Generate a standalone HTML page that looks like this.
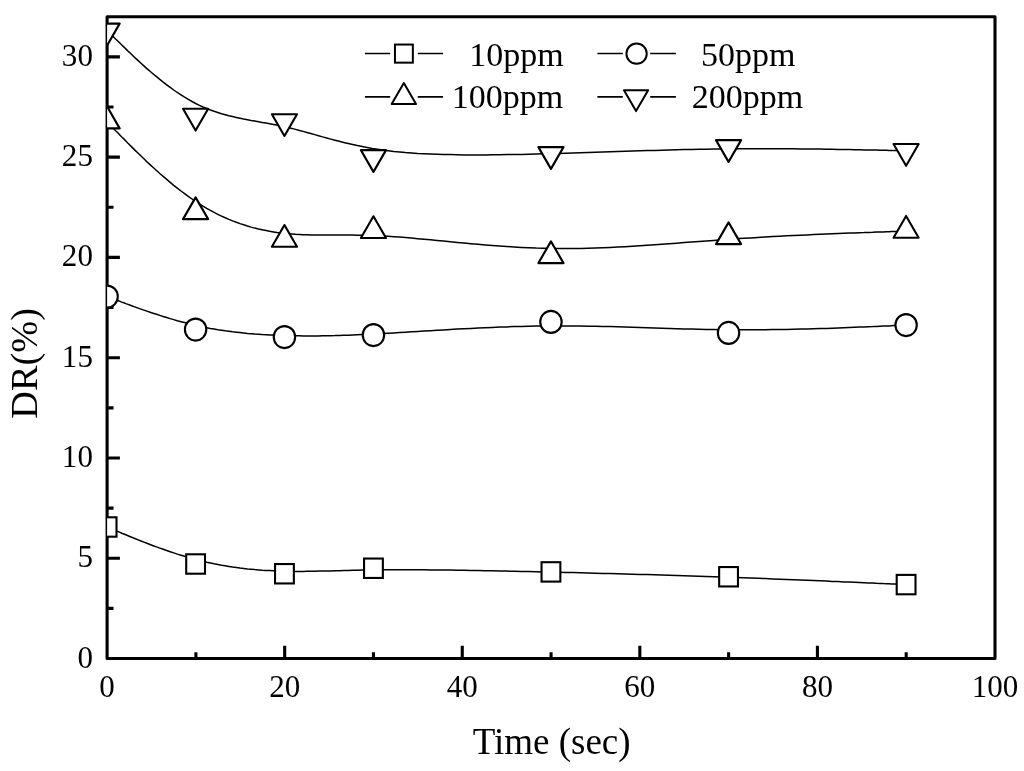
<!DOCTYPE html>
<html><head><meta charset="utf-8"><title>DR vs Time</title>
<style>
html,body{margin:0;padding:0;background:#fff;}
body{width:1024px;height:771px;overflow:hidden;}
svg{display:block;will-change:transform;}
text{font-family:"Liberation Serif",serif;fill:#000;}
.tl{font-size:32.5px;}
.lg{font-size:34px;}
.ax{stroke:#000;stroke-width:3.1;fill:none;stroke-linecap:butt;stroke-linejoin:round;}
.cv{stroke:#000;stroke-width:1.5;fill:none;}
.lc{stroke:#000;stroke-width:1.6;fill:none;}
.mk{stroke:#000;stroke-width:2.1;fill:#fff;stroke-linejoin:round;}
.mk rect{stroke-linejoin:miter;}
.lm{stroke-width:2;}
</style></head><body>
<svg width="1024" height="771" viewBox="0 0 1024 771">
<rect x="0" y="0" width="1024" height="771" fill="#fff"/>
<defs><clipPath id="pa"><rect x="107.1" y="16.8" width="887.9" height="641.8"/></clipPath></defs>
<path class="ax" d="M195.89 658.55V652.15M284.68 658.55V645.75M373.47 658.55V652.15M462.26 658.55V645.75M551.05 658.55V652.15M639.84 658.55V645.75M728.63 658.55V652.15M817.42 658.55V645.75M906.21 658.55V652.15M107.10 608.41H113.50M107.10 558.27H119.90M107.10 508.13H113.50M107.10 457.99H119.90M107.10 407.85H113.50M107.10 357.71H119.90M107.10 307.57H113.50M107.10 257.42H119.90M107.10 207.28H113.50M107.10 157.14H119.90M107.10 107.00H113.50M107.10 56.86H119.90"/>
<rect class="ax" x="107.10" y="16.75" width="887.90" height="641.80"/>
<g clip-path="url(#pa)">
<path class="cv" d="M107.1 527.0 L107.9 527.3 L108.9 527.8 L110.0 528.2 L111.5 528.8 L112.3 529.2 L113.3 529.6 L114.4 530.1 L115.6 530.6 L117.0 531.1 L118.5 531.7 L120.1 532.4 L121.8 533.2 L123.8 534.0 L125.8 534.8 L128.0 535.7 L130.4 536.7 L132.9 537.7 L135.4 538.8 L138.2 539.9 L141.0 541.0 L143.9 542.1 L146.9 543.3 L150.0 544.5 L153.2 545.7 L156.5 546.9 L159.8 548.1 L163.2 549.3 L166.7 550.5 L170.2 551.7 L173.7 552.9 L177.3 554.1 L181.0 555.2 L184.6 556.3 L188.3 557.4 L192.0 558.5 L195.7 559.5 L199.4 560.4 L203.0 561.3 L206.7 562.2 L210.4 563.0 L214.1 563.8 L217.8 564.5 L221.5 565.2 L225.2 565.8 L228.9 566.4 L232.6 567.0 L236.3 567.5 L240.0 568.0 L243.7 568.4 L247.4 568.9 L251.1 569.2 L254.8 569.6 L258.5 569.9 L262.2 570.2 L266.0 570.4 L269.7 570.6 L273.4 570.8 L277.1 571.0 L280.8 571.1 L284.5 571.2 L288.2 571.3 L291.9 571.3 L295.6 571.4 L299.4 571.4 L303.1 571.4 L306.9 571.3 L310.8 571.3 L314.7 571.2 L318.6 571.1 L322.6 571.1 L326.7 571.0 L330.8 570.9 L335.0 570.8 L339.3 570.7 L343.7 570.6 L348.2 570.4 L352.7 570.3 L357.4 570.2 L362.2 570.1 L367.2 570.0 L372.2 570.0 L377.4 569.9 L382.7 569.8 L388.2 569.8 L393.8 569.7 L399.6 569.7 L405.5 569.7 L411.6 569.7 L417.7 569.8 L424.0 569.8 L430.5 569.9 L437.0 569.9 L443.6 570.0 L450.3 570.1 L457.1 570.2 L464.0 570.3 L471.0 570.4 L478.1 570.5 L485.2 570.7 L492.3 570.8 L499.6 570.9 L506.8 571.1 L514.1 571.3 L521.4 571.4 L528.8 571.6 L536.2 571.8 L543.6 571.9 L551.0 572.1 L558.4 572.3 L565.8 572.5 L573.2 572.6 L580.6 572.8 L588.0 573.0 L595.4 573.2 L602.8 573.4 L610.2 573.6 L617.6 573.8 L625.0 574.0 L632.4 574.2 L639.8 574.4 L647.2 574.6 L654.5 574.8 L661.9 575.1 L669.3 575.3 L676.7 575.5 L684.1 575.8 L691.5 576.0 L698.9 576.2 L706.3 576.5 L713.7 576.7 L721.1 577.0 L728.5 577.2 L735.9 577.5 L743.3 577.8 L750.7 578.1 L758.0 578.3 L765.3 578.6 L772.5 578.9 L779.6 579.2 L786.6 579.5 L793.6 579.7 L800.4 580.0 L807.1 580.3 L813.6 580.6 L820.0 580.8 L826.2 581.1 L832.3 581.4 L838.1 581.6 L843.8 581.9 L849.2 582.1 L854.4 582.3 L859.4 582.5 L864.1 582.7 L868.5 582.9 L872.7 583.1 L876.5 583.3 L880.1 583.4 L883.3 583.6 L886.3 583.7 L889.0 583.8 L891.4 584.0 L893.6 584.0 L895.6 584.1 L897.3 584.2 L898.9 584.3 L900.2 584.3 L901.4 584.4 L902.4 584.4 L903.3 584.5 L904.5 584.5 L905.4 584.6"/>
<path class="cv" d="M107.1 296.6 L107.9 296.9 L108.9 297.3 L110.0 297.7 L111.5 298.2 L112.3 298.6 L113.3 298.9 L114.4 299.3 L115.6 299.8 L117.0 300.3 L118.5 300.8 L120.1 301.4 L121.8 302.1 L123.8 302.8 L125.8 303.6 L128.0 304.4 L130.4 305.3 L132.9 306.2 L135.4 307.1 L138.2 308.1 L141.0 309.1 L143.9 310.1 L146.9 311.1 L150.0 312.2 L153.2 313.3 L156.5 314.3 L159.8 315.4 L163.2 316.5 L166.7 317.5 L170.2 318.6 L173.7 319.6 L177.3 320.7 L181.0 321.7 L184.6 322.6 L188.3 323.6 L192.0 324.5 L195.7 325.4 L199.4 326.2 L203.0 327.0 L206.7 327.7 L210.4 328.4 L214.1 329.0 L217.8 329.7 L221.5 330.2 L225.2 330.8 L228.9 331.3 L232.6 331.8 L236.3 332.2 L240.0 332.6 L243.7 333.0 L247.4 333.4 L251.1 333.7 L254.8 334.0 L258.5 334.2 L262.2 334.5 L266.0 334.7 L269.7 334.9 L273.4 335.1 L277.1 335.3 L280.8 335.4 L284.5 335.5 L288.2 335.6 L291.9 335.7 L295.6 335.8 L299.4 335.8 L303.1 335.9 L306.9 335.9 L310.8 335.9 L314.7 335.9 L318.6 335.9 L322.6 335.8 L326.7 335.8 L330.8 335.7 L335.0 335.6 L339.3 335.4 L343.7 335.3 L348.2 335.2 L352.7 335.0 L357.4 334.8 L362.2 334.6 L367.2 334.3 L372.2 334.1 L377.4 333.8 L382.7 333.5 L388.2 333.2 L393.8 332.9 L399.6 332.6 L405.5 332.2 L411.6 331.8 L417.7 331.5 L424.0 331.1 L430.5 330.7 L437.0 330.3 L443.6 329.9 L450.3 329.5 L457.1 329.1 L464.0 328.8 L471.0 328.4 L478.1 328.1 L485.2 327.7 L492.3 327.4 L499.6 327.1 L506.8 326.9 L514.1 326.6 L521.4 326.4 L528.8 326.2 L536.2 326.1 L543.6 326.0 L551.0 325.9 L558.4 325.9 L565.8 325.9 L573.2 326.0 L580.6 326.1 L588.0 326.2 L595.4 326.3 L602.8 326.5 L610.2 326.6 L617.6 326.8 L625.0 327.1 L632.4 327.3 L639.8 327.5 L647.2 327.7 L654.5 328.0 L661.9 328.2 L669.3 328.5 L676.7 328.7 L684.1 328.9 L691.5 329.1 L698.9 329.3 L706.3 329.4 L713.7 329.6 L721.1 329.7 L728.5 329.8 L735.9 329.8 L743.3 329.8 L750.7 329.8 L758.0 329.8 L765.3 329.7 L772.5 329.6 L779.6 329.5 L786.6 329.4 L793.6 329.3 L800.4 329.1 L807.1 329.0 L813.6 328.8 L820.0 328.6 L826.2 328.4 L832.3 328.2 L838.1 328.0 L843.8 327.8 L849.2 327.5 L854.4 327.3 L859.4 327.1 L864.1 326.9 L868.5 326.7 L872.7 326.6 L876.5 326.4 L880.1 326.2 L883.3 326.1 L886.3 326.0 L889.0 325.9 L891.4 325.7 L893.6 325.6 L895.6 325.6 L897.3 325.5 L898.9 325.4 L900.2 325.4 L901.4 325.3 L902.4 325.3 L903.3 325.2 L904.5 325.2 L905.4 325.1"/>
<path class="cv" d="M107.1 122.0 L107.9 122.8 L108.5 123.4 L109.4 124.4 L110.0 125.0 L110.7 125.7 L111.5 126.4 L112.3 127.3 L113.3 128.3 L114.4 129.4 L115.6 130.7 L117.0 132.0 L118.5 133.5 L120.1 135.2 L121.8 137.0 L123.8 138.9 L125.8 141.0 L128.0 143.3 L130.4 145.6 L132.9 148.1 L135.4 150.6 L138.2 153.3 L141.0 156.0 L143.9 158.8 L146.9 161.7 L150.0 164.6 L153.2 167.5 L156.5 170.5 L159.8 173.5 L163.2 176.4 L166.7 179.4 L170.2 182.4 L173.7 185.3 L177.3 188.1 L181.0 191.0 L184.6 193.7 L188.3 196.4 L192.0 199.0 L195.7 201.5 L199.4 203.9 L203.0 206.2 L206.7 208.4 L210.4 210.4 L214.1 212.4 L217.8 214.3 L221.5 216.1 L225.2 217.8 L228.9 219.4 L232.6 220.9 L236.3 222.3 L240.0 223.6 L243.7 224.8 L247.4 226.0 L251.1 227.1 L254.8 228.1 L258.5 229.0 L262.2 229.8 L266.0 230.6 L269.7 231.3 L273.4 231.9 L277.1 232.5 L280.8 233.0 L284.5 233.4 L288.2 233.7 L291.9 234.0 L295.6 234.3 L299.4 234.5 L303.1 234.7 L306.9 234.8 L310.8 234.9 L314.7 234.9 L318.6 235.0 L322.6 235.0 L326.7 235.0 L330.8 235.0 L335.0 235.0 L339.3 235.0 L343.7 235.0 L348.2 235.1 L352.7 235.1 L357.4 235.2 L362.2 235.3 L367.2 235.4 L372.2 235.6 L377.4 235.8 L382.7 236.0 L388.2 236.3 L393.8 236.7 L399.6 237.1 L405.5 237.6 L411.6 238.1 L417.7 238.7 L424.0 239.2 L430.5 239.8 L437.0 240.5 L443.6 241.1 L450.3 241.7 L457.1 242.4 L464.0 243.0 L471.0 243.7 L478.1 244.3 L485.2 244.9 L492.3 245.4 L499.6 246.0 L506.8 246.5 L514.1 247.0 L521.4 247.4 L528.8 247.7 L536.2 248.1 L543.6 248.3 L551.0 248.5 L558.4 248.6 L565.8 248.6 L573.2 248.6 L580.6 248.4 L588.0 248.3 L595.4 248.1 L602.8 247.8 L610.2 247.5 L617.6 247.1 L625.0 246.7 L632.4 246.3 L639.8 245.8 L647.2 245.3 L654.5 244.8 L661.9 244.3 L669.3 243.7 L676.7 243.2 L684.1 242.6 L691.5 242.0 L698.9 241.5 L706.3 240.9 L713.7 240.4 L721.1 239.8 L728.5 239.3 L735.9 238.8 L743.3 238.3 L750.7 237.9 L758.0 237.4 L765.3 237.0 L772.5 236.6 L779.6 236.2 L786.6 235.8 L793.6 235.5 L800.4 235.2 L807.1 234.9 L813.6 234.6 L820.0 234.3 L826.2 234.0 L832.3 233.8 L838.1 233.5 L843.8 233.3 L849.2 233.1 L854.4 232.9 L859.4 232.7 L864.1 232.6 L868.5 232.4 L872.7 232.3 L876.5 232.1 L880.1 232.0 L883.3 231.9 L886.3 231.8 L889.0 231.7 L891.4 231.6 L893.6 231.5 L895.6 231.5 L897.3 231.4 L898.9 231.4 L900.2 231.3 L901.4 231.3 L902.4 231.2 L903.3 231.2 L904.5 231.2 L905.4 231.1"/>
<path class="cv" d="M107.1 30.6 L107.9 31.4 L108.5 32.0 L109.4 32.9 L110.0 33.5 L110.7 34.1 L111.5 34.9 L112.3 35.7 L113.3 36.7 L114.4 37.8 L115.6 39.0 L117.0 40.3 L118.5 41.7 L120.1 43.3 L121.8 45.0 L123.8 46.9 L125.8 48.9 L128.0 51.1 L130.4 53.3 L132.9 55.7 L135.4 58.1 L138.2 60.6 L141.0 63.2 L143.9 65.9 L146.9 68.6 L150.0 71.3 L153.2 74.0 L156.5 76.7 L159.8 79.4 L163.2 82.1 L166.7 84.8 L170.2 87.4 L173.7 90.0 L177.3 92.5 L181.0 94.9 L184.6 97.2 L188.3 99.4 L192.0 101.5 L195.7 103.5 L199.4 105.3 L203.0 107.0 L206.7 108.5 L210.4 110.0 L214.1 111.3 L217.8 112.5 L221.5 113.7 L225.2 114.7 L228.9 115.7 L232.6 116.6 L236.3 117.4 L240.0 118.2 L243.7 119.0 L247.4 119.7 L251.1 120.4 L254.8 121.0 L258.5 121.7 L262.2 122.4 L266.0 123.0 L269.7 123.7 L273.4 124.4 L277.1 125.1 L280.8 125.8 L284.5 126.7 L288.2 127.5 L291.9 128.4 L295.6 129.4 L299.4 130.4 L303.1 131.4 L306.9 132.4 L310.8 133.5 L314.7 134.6 L318.6 135.7 L322.6 136.9 L326.7 138.0 L330.8 139.1 L335.0 140.2 L339.3 141.3 L343.7 142.4 L348.2 143.5 L352.7 144.5 L357.4 145.6 L362.2 146.5 L367.2 147.5 L372.2 148.4 L377.4 149.2 L382.7 150.0 L388.2 150.7 L393.8 151.4 L399.6 151.9 L405.5 152.5 L411.6 152.9 L417.7 153.4 L424.0 153.7 L430.5 154.0 L437.0 154.3 L443.6 154.5 L450.3 154.6 L457.1 154.8 L464.0 154.9 L471.0 154.9 L478.1 154.9 L485.2 154.9 L492.3 154.8 L499.6 154.8 L506.8 154.6 L514.1 154.5 L521.4 154.4 L528.8 154.2 L536.2 154.0 L543.6 153.8 L551.0 153.6 L558.4 153.4 L565.8 153.2 L573.2 153.0 L580.6 152.7 L588.0 152.5 L595.4 152.2 L602.8 152.0 L610.2 151.8 L617.6 151.5 L625.0 151.3 L632.4 151.1 L639.8 150.8 L647.2 150.6 L654.5 150.4 L661.9 150.2 L669.3 150.0 L676.7 149.8 L684.1 149.6 L691.5 149.5 L698.9 149.3 L706.3 149.2 L713.7 149.0 L721.1 148.9 L728.5 148.9 L735.9 148.8 L743.3 148.7 L750.7 148.7 L758.0 148.7 L765.3 148.7 L772.5 148.7 L779.6 148.7 L786.6 148.8 L793.6 148.8 L800.4 148.9 L807.1 149.0 L813.6 149.0 L820.0 149.1 L826.2 149.2 L832.3 149.3 L838.1 149.4 L843.8 149.5 L849.2 149.6 L854.4 149.7 L859.4 149.8 L864.1 149.9 L868.5 150.0 L872.7 150.0 L876.5 150.1 L880.1 150.2 L883.3 150.3 L886.3 150.3 L889.0 150.4 L891.4 150.4 L893.6 150.5 L895.6 150.5 L897.3 150.6 L898.9 150.6 L900.2 150.6 L901.4 150.7 L902.4 150.7 L903.3 150.7 L904.5 150.7 L905.4 150.7"/>
<g class="mk">
<rect x="97.70" y="517.30" width="18.80" height="19.40"/>
<rect x="186.20" y="554.30" width="18.80" height="19.40"/>
<rect x="275.05" y="564.05" width="18.80" height="19.40"/>
<rect x="364.05" y="558.55" width="18.80" height="19.40"/>
<rect x="541.55" y="562.20" width="18.80" height="19.40"/>
<rect x="719.15" y="567.05" width="18.80" height="19.40"/>
<rect x="896.70" y="574.90" width="18.80" height="19.40"/>
<ellipse cx="107.10" cy="296.60" rx="10.70" ry="11.02"/>
<ellipse cx="195.60" cy="329.60" rx="10.70" ry="11.02"/>
<ellipse cx="284.45" cy="337.10" rx="10.70" ry="11.02"/>
<ellipse cx="373.45" cy="335.10" rx="10.70" ry="11.02"/>
<ellipse cx="550.95" cy="321.90" rx="10.70" ry="11.02"/>
<ellipse cx="728.55" cy="332.90" rx="10.70" ry="11.02"/>
<ellipse cx="906.10" cy="325.10" rx="10.70" ry="11.02"/>
<polygon points="107.10,106.60 119.66,128.35 94.54,128.35"/>
<polygon points="195.60,197.40 208.16,219.15 183.04,219.15"/>
<polygon points="284.45,225.00 297.01,246.75 271.89,246.75"/>
<polygon points="373.45,216.25 386.01,238.00 360.89,238.00"/>
<polygon points="550.95,241.35 563.51,263.10 538.39,263.10"/>
<polygon points="728.55,222.40 741.11,244.15 715.99,244.15"/>
<polygon points="906.10,215.95 918.66,237.70 893.54,237.70"/>
<polygon points="107.10,45.40 119.66,23.65 94.54,23.65"/>
<polygon points="195.60,130.55 208.16,108.80 183.04,108.80"/>
<polygon points="284.45,135.95 297.01,114.20 271.89,114.20"/>
<polygon points="373.45,171.90 386.01,150.15 360.89,150.15"/>
<polygon points="550.95,168.85 563.51,147.10 538.39,147.10"/>
<polygon points="728.55,161.90 741.11,140.15 715.99,140.15"/>
<polygon points="906.10,165.80 918.66,144.05 893.54,144.05"/>
</g></g>
<text class="tl" transform="translate(107.1 697) scale(0.955 1)" text-anchor="middle">0</text>
<text class="tl" transform="translate(284.7 697) scale(0.955 1)" text-anchor="middle">20</text>
<text class="tl" transform="translate(462.3 697) scale(0.955 1)" text-anchor="middle">40</text>
<text class="tl" transform="translate(639.8 697) scale(0.955 1)" text-anchor="middle">60</text>
<text class="tl" transform="translate(817.4 697) scale(0.955 1)" text-anchor="middle">80</text>
<text class="tl" transform="translate(995.0 697) scale(0.955 1)" text-anchor="middle">100</text>
<text class="tl" transform="translate(92.9 667.5) scale(0.955 1)" text-anchor="end">0</text>
<text class="tl" transform="translate(92.9 567.3) scale(0.955 1)" text-anchor="end">5</text>
<text class="tl" transform="translate(92.9 467.0) scale(0.955 1)" text-anchor="end">10</text>
<text class="tl" transform="translate(92.9 366.7) scale(0.955 1)" text-anchor="end">15</text>
<text class="tl" transform="translate(92.9 266.4) scale(0.955 1)" text-anchor="end">20</text>
<text class="tl" transform="translate(92.9 166.1) scale(0.955 1)" text-anchor="end">25</text>
<text class="tl" transform="translate(92.9 65.9) scale(0.955 1)" text-anchor="end">30</text>
<text x="551.6" y="754.3" text-anchor="middle" font-size="37">Time (sec)</text>
<text transform="translate(37.3 363.4) rotate(-90)" text-anchor="middle" font-size="38.3">DR(%)</text>
<path class="lc" d="M364.9 53.5H390.2M417.8 53.5H443.1"/>
<path class="lc" d="M364.9 96.9H390.2M417.8 96.9H443.1"/>
<path class="lc" d="M597.4 53.5H622.8M650.2 53.5H675.9"/>
<path class="lc" d="M597.4 96.9H622.8M650.2 96.9H675.9"/>
<g class="mk lm">
<rect x="394.95" y="44.55" width="17.90" height="18.10"/>
<ellipse cx="636.60" cy="53.70" rx="10.15" ry="10.15"/>
<polygon points="403.85,83.00 416.02,104.08 391.68,104.08"/>
<polygon points="636.05,111.10 648.13,90.18 623.97,90.18"/>
</g>
<text class="lg" x="469.2" y="65.5">10ppm</text>
<text class="lg" x="451.7" y="108.4">100ppm</text>
<text class="lg" x="700.9" y="65.5">50ppm</text>
<text class="lg" x="691.7" y="108.4">200ppm</text>
</svg></body></html>
